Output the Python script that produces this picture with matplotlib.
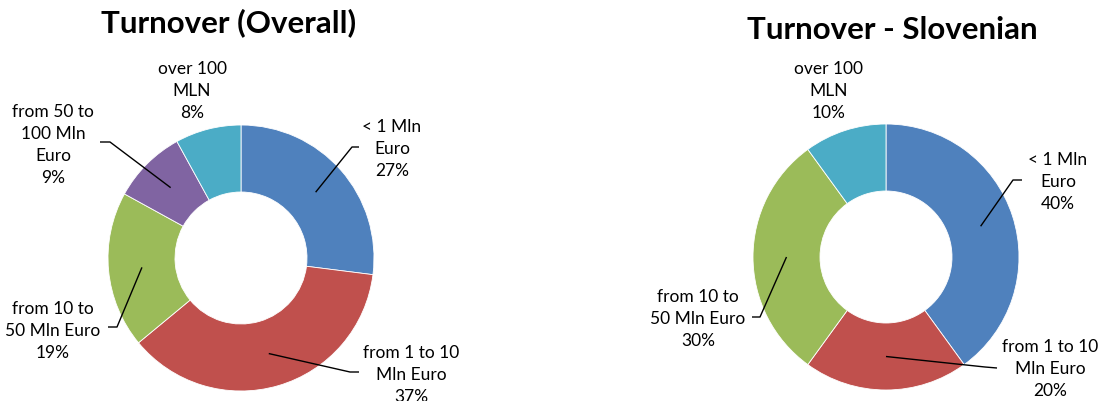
import matplotlib
matplotlib.use("Agg")
import matplotlib.pyplot as plt
import numpy as np

plt.rcParams["font.family"] = ["Lato", "DejaVu Sans"]

# --- data ---
overall_labels = ["< 1 Mln\nEuro", "from 1 to 10\nMln Euro", "from 10 to\n50 Mln Euro",
                  "from 50 to\n100 Mln\nEuro", "over 100\nMLN"]
overall_values = [27, 37, 19, 9, 8]
overall_colors = ["#4F81BD", "#C0504D", "#9BBB59", "#8064A2", "#4BACC6"]

slo_labels = ["< 1 Mln\nEuro", "from 1 to 10\nMln Euro", "from 10 to\n50 Mln Euro", "over 100\nMLN"]
slo_values = [40, 20, 30, 10]
slo_colors = ["#4F81BD", "#C0504D", "#9BBB59", "#4BACC6"]

W, H = 1101, 401
R, RING = 133, 67

# label layout in pixel coords (top-down): text centre, leader elbow, leader end
overall_layout = [
    ((392, 149), (352, 147), (359, 147)),
    ((411, 375), (350, 372), (359, 372)),
    ((53, 331), (117, 327), (108, 327)),
    ((53, 145), (110, 142), (100, 142)),
    ((192, 91), None, None),
]
slo_layout = [
    ((1058, 182), (1013, 180), (1022, 180)),
    ((1050, 369), (985, 367), (997, 368)),
    ((698, 319), (760, 317), (752, 317)),
    ((829, 91), None, None),
]


def donut(ax, values, labels, colors, layout, cx, cy, title, title_xy):
    cy_up = H - cy
    ax.pie(values, colors=colors, startangle=90, counterclock=False,
           center=(cx, cy_up), radius=R,
           wedgeprops=dict(width=RING, edgecolor="white", linewidth=0.6))
    total = float(sum(values))
    cum = np.cumsum([0] + list(values))
    for i, v in enumerate(values):
        (tx, ty), elbow, end = layout[i]
        pct = int(round(100 * v / total))
        ax.text(tx, H - ty, f"{labels[i]}\n{pct}%", ha="center", va="center",
                multialignment="center", fontsize=12.5, linespacing=1.47, color="#000000")
        if elbow is None:
            continue
        # leader starts in the middle of the ring at the wedge's mid angle
        mid = (cum[i] + v / 2) / total
        theta = np.deg2rad(90 - 360 * mid)
        rm = R - RING / 2
        sx, sy = cx + rm * np.cos(theta), cy_up + rm * np.sin(theta)
        ax.plot([sx, elbow[0], end[0]], [sy, H - elbow[1], H - end[1]],
                color="black", lw=1.0, solid_capstyle="butt")
    ax.text(title_xy[0], H - title_xy[1], title, ha="center", va="center",
            fontsize=22.5, fontweight="bold")


fig = plt.figure(figsize=(W / 100, H / 100), dpi=100)
ax = fig.add_axes([0, 0, 1, 1])

donut(ax, overall_values, overall_labels, overall_colors, overall_layout,
      241, 258, "Turnover (Overall)", (229, 23))
donut(ax, slo_values, slo_labels, slo_colors, slo_layout,
      886, 257, "Turnover - Slovenian", (892, 30))

ax.set_xlim(0, W)
ax.set_ylim(0, H)
ax.set_aspect("equal")
ax.axis("off")

fig.savefig("out.png", dpi=100)
